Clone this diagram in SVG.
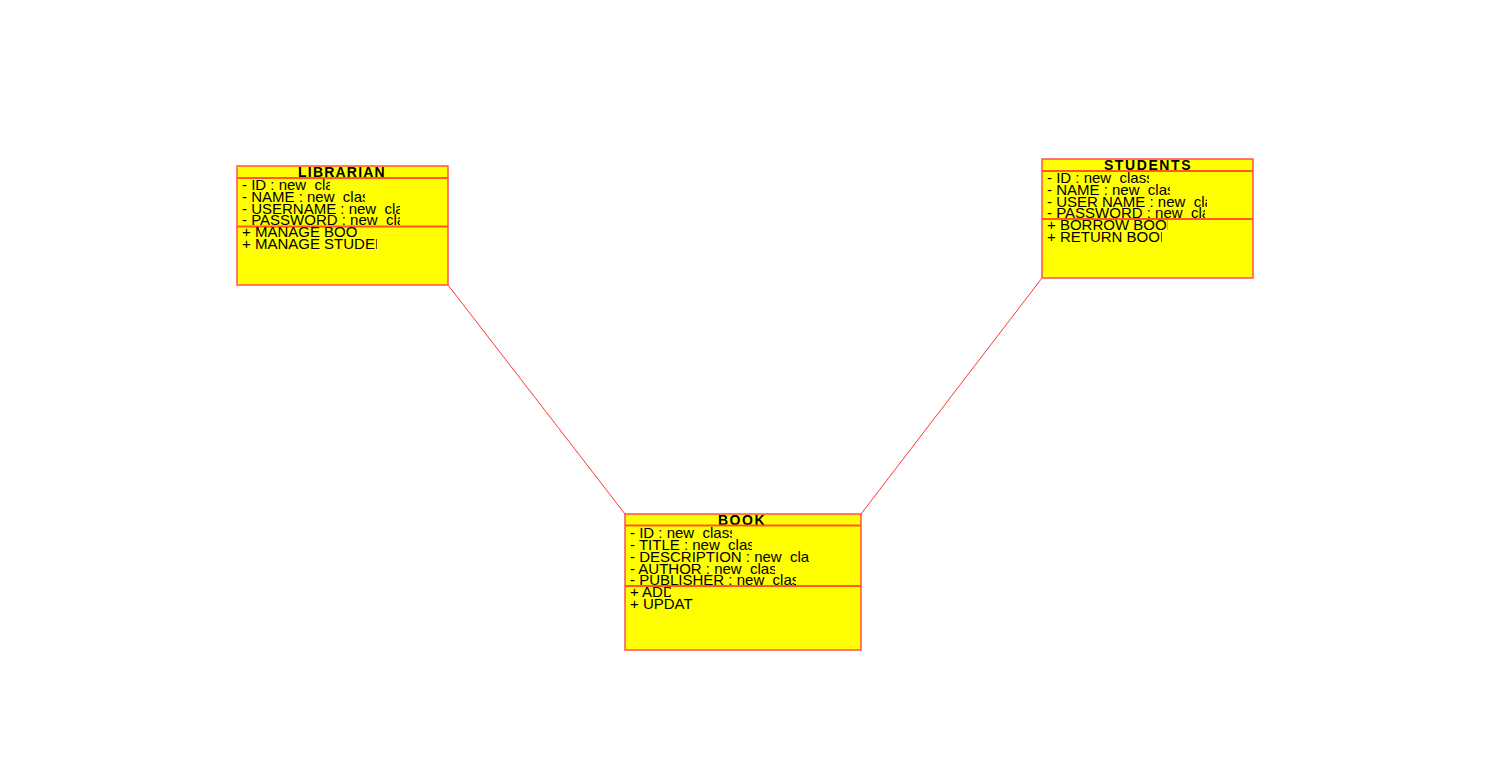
<svg xmlns="http://www.w3.org/2000/svg" width="1487" height="775" viewBox="0 0 1487 775">
  <style>
    .box { fill: #ffff00; stroke: #ff5050; stroke-width: 1.5; }
    .sep { stroke: #ff5a1a; stroke-width: 2; }
    .title { font-family: "Liberation Sans", Arial, sans-serif; font-size: 14px; font-weight: bold; letter-spacing: 1.2px; fill: #000; text-anchor: middle; }
    .row { font-family: "Liberation Sans", Arial, sans-serif; font-size: 15px; fill: #000; }
    .link { stroke: #ff0000; stroke-width: 0.8; fill: none; }
  </style>
  <defs>
    <!-- each member line is cut to its own cell -->
    <clipPath id="l1" clipPathUnits="userSpaceOnUse"><rect x="240" y="177" width="90" height="14"/></clipPath>
    <clipPath id="l2" clipPathUnits="userSpaceOnUse"><rect x="240" y="189" width="125" height="13.5"/></clipPath>
    <clipPath id="l3" clipPathUnits="userSpaceOnUse"><rect x="240" y="201" width="160" height="13.5"/></clipPath>
    <clipPath id="l4" clipPathUnits="userSpaceOnUse"><rect x="240" y="213" width="160" height="13"/></clipPath>
    <clipPath id="l5" clipPathUnits="userSpaceOnUse"><rect x="240" y="225" width="118" height="13"/></clipPath>
    <clipPath id="l6" clipPathUnits="userSpaceOnUse"><rect x="240" y="237" width="137" height="14"/></clipPath>

    <clipPath id="s1" clipPathUnits="userSpaceOnUse"><rect x="1045" y="170" width="104" height="14"/></clipPath>
    <clipPath id="s2" clipPathUnits="userSpaceOnUse"><rect x="1045" y="182" width="125" height="13.5"/></clipPath>
    <clipPath id="s3" clipPathUnits="userSpaceOnUse"><rect x="1045" y="194" width="162" height="13.5"/></clipPath>
    <clipPath id="s4" clipPathUnits="userSpaceOnUse"><rect x="1045" y="206" width="160" height="13"/></clipPath>
    <clipPath id="s5" clipPathUnits="userSpaceOnUse"><rect x="1045" y="218" width="123" height="13"/></clipPath>
    <clipPath id="s6" clipPathUnits="userSpaceOnUse"><rect x="1045" y="230" width="117" height="14"/></clipPath>

    <clipPath id="b1" clipPathUnits="userSpaceOnUse"><rect x="628" y="525" width="104" height="14"/></clipPath>
    <clipPath id="b2" clipPathUnits="userSpaceOnUse"><rect x="628" y="537" width="124" height="13.5"/></clipPath>
    <clipPath id="b3" clipPathUnits="userSpaceOnUse"><rect x="628" y="549" width="181" height="13.5"/></clipPath>
    <clipPath id="b4" clipPathUnits="userSpaceOnUse"><rect x="628" y="561" width="147" height="13.5"/></clipPath>
    <clipPath id="b5" clipPathUnits="userSpaceOnUse"><rect x="628" y="573" width="168" height="13"/></clipPath>
    <clipPath id="b6" clipPathUnits="userSpaceOnUse"><rect x="628" y="585" width="43" height="13"/></clipPath>
    <clipPath id="b7" clipPathUnits="userSpaceOnUse"><rect x="628" y="597" width="65" height="14"/></clipPath>
  </defs>

  <g id="connectors">
    <line class="link" x1="448" y1="285" x2="625" y2="514"/>
    <line class="link" x1="1042" y1="278" x2="861" y2="514"/>
  </g>

  <g id="librarian">
    <rect class="box" x="237" y="166" width="211" height="119"/>
    <text class="title" x="342" y="177">LIBRARIAN</text>
    <line class="sep" x1="237" y1="178" x2="448" y2="178"/>
    <text class="row" x="242" y="189.5" clip-path="url(#l1)">- ID : new_class</text>
    <text class="row" x="242" y="201.5" clip-path="url(#l2)">- NAME : new_class</text>
    <text class="row" x="242" y="213.5" clip-path="url(#l3)">- USERNAME : new_class</text>
    <text class="row" x="242" y="225" clip-path="url(#l4)">- PASSWORD : new_class</text>
    <line class="sep" x1="237" y1="226.5" x2="448" y2="226.5"/>
    <text class="row" x="242" y="237" clip-path="url(#l5)">+ MANAGE BOOKS</text>
    <text class="row" x="242" y="249" clip-path="url(#l6)">+ MANAGE STUDENTS</text>
  </g>

  <g id="students">
    <rect class="box" x="1042" y="159" width="211" height="119"/>
    <text class="title" x="1148" y="170" style="letter-spacing:1.6px">STUDENTS</text>
    <line class="sep" x1="1042" y1="171" x2="1253" y2="171"/>
    <text class="row" x="1047" y="182.5" clip-path="url(#s1)">- ID : new_class</text>
    <text class="row" x="1047" y="194.5" clip-path="url(#s2)">- NAME : new_class</text>
    <text class="row" x="1047" y="206.5" clip-path="url(#s3)">- USER NAME : new_class</text>
    <text class="row" x="1047" y="218" clip-path="url(#s4)">- PASSWORD : new_class</text>
    <line class="sep" x1="1042" y1="219" x2="1253" y2="219"/>
    <text class="row" x="1047" y="230" clip-path="url(#s5)">+ BORROW BOOK</text>
    <text class="row" x="1047" y="242" clip-path="url(#s6)">+ RETURN BOOK</text>
  </g>

  <g id="book">
    <rect class="box" x="625" y="514" width="236" height="136"/>
    <text class="title" x="742" y="525" style="letter-spacing:1.5px">BOOK</text>
    <line class="sep" x1="625" y1="525.5" x2="861" y2="525.5"/>
    <text class="row" x="630" y="537.5" clip-path="url(#b1)">- ID : new_class</text>
    <text class="row" x="630" y="549.5" clip-path="url(#b2)">- TITLE : new_class</text>
    <text class="row" x="630" y="561.5" clip-path="url(#b3)">- DESCRIPTION : new_class</text>
    <text class="row" x="630" y="573.5" clip-path="url(#b4)">- AUTHOR : new_class</text>
    <text class="row" x="630" y="585" clip-path="url(#b5)">- PUBLISHER : new_class</text>
    <line class="sep" x1="625" y1="586" x2="861" y2="586"/>
    <text class="row" x="630" y="597" clip-path="url(#b6)">+ ADD</text>
    <text class="row" x="630" y="609" clip-path="url(#b7)">+ UPDATE</text>
  </g>
</svg>
